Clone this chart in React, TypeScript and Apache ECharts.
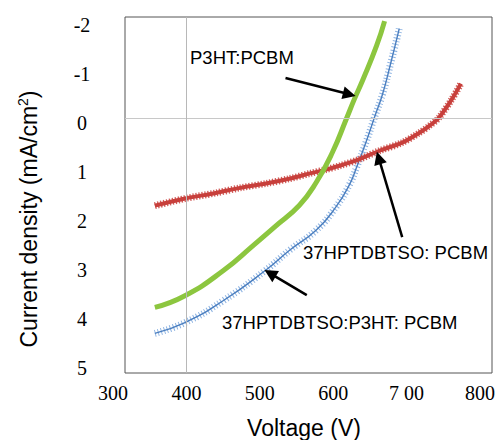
import React, { useEffect, useRef } from 'react';
import * as echarts from 'echarts';

// Voltage (V) vs current density (mA/cm^2)
const p3htPcbm: [number, number][] = [
  [357, 3.71], [398, 3.48], [450, 2.99], [492, 2.48], [520, 2.13], [554, 1.7],
  [577, 1.25], [599, 0.66], [618, 0.0], [629, -0.39], [640, -0.75], [659, -1.43], [670, -1.92],
];
const hptdbtsoPcbm: [number, number][] = [
  [357, 1.71], [398, 1.57], [440, 1.46], [473, 1.36], [510, 1.27], [540, 1.18], [570, 1.07],
  [590, 1.0], [610, 0.92], [635, 0.8], [663, 0.63], [694, 0.47], [717, 0.28], [731, 0.14],
  [744, -0.02], [762, -0.39], [774, -0.69],
];
const hptdbtsoP3htPcbm: [number, number][] = [
  [357, 4.22], [398, 4.01], [450, 3.58], [507, 2.99], [541, 2.58], [577, 2.19], [604, 1.73],
  [622, 1.3], [632, 0.95], [645, 0.45], [657, -0.06], [667, -0.47], [678, -1.07], [690, -1.77],
];

const xTickLabels = ['300', '400', '500', '600', '7 00', '800'];
const yTickLabels = ['-2', '-1', '0', '1', '2', '3', '4', '5'];

// annotation arrows: [tail, head] in data coordinates
const arrowP3ht: [number, number][] = [[535, -0.8], [622, -0.48]];
const arrowHptPcbm: [number, number][] = [[694, 2.33], [662, 0.77]];
const arrowTernary: [number, number][] = [[564, 3.47], [514, 3.04]];

const labelP3ht = 'P3HT:PCBM';
const labelHptPcbm = '37HPTDBTSO: PCBM';
const labelTernary = '37HPTDBTSO:P3HT: PCBM';

const GREEN = '#8cc63f';
const RED = '#c8403c';
const BLUE = '#4a7ebf';
const BLUE_LIGHT = '#8db3e2';

export default function App() {
  const ref = useRef<HTMLDivElement>(null);
  useEffect(() => {
    document.body.style.margin = '0';
    const chart = echarts.init(ref.current!, null, { renderer: 'svg' });
    const sans = 'Liberation Sans';
    const serif = 'Liberation Serif';
    const arrowItem = (a: [number, number][]) => [{ coord: a[0] }, { coord: a[1] }];
    chart.setOption({
      animation: false,
      backgroundColor: '#ffffff',
      grid: [
        { left: 113, right: 17, top: 17, bottom: 67 },
        { left: 125, right: 6, top: 17, bottom: 67, show: true, borderColor: '#555', borderWidth: 1 },
        { left: 125, right: 6, top: 25, bottom: 72 },
      ],
      xAxis: [
        {
          gridIndex: 0, type: 'value', min: 300, max: 800, interval: 100,
          axisLine: { show: false }, axisTick: { show: false }, splitLine: { show: false },
          axisLabel: {
            margin: 10, fontFamily: serif, fontSize: 20, color: '#000',
            formatter: (v: number) => xTickLabels[Math.round((v - 300) / 100)] ?? '',
          },
        },
        { gridIndex: 1, type: 'value', min: 0, max: 1, show: false },
        { gridIndex: 2, type: 'value', min: 0, max: 1, show: false },
      ],
      yAxis: [
        { gridIndex: 0, type: 'value', min: -2, max: 5, inverse: true, show: false },
        { gridIndex: 1, type: 'value', min: -2, max: 5, inverse: true, show: false },
        {
          gridIndex: 2, type: 'value', min: -2, max: 5, interval: 1, inverse: true,
          axisLine: { show: false }, axisTick: { show: false }, splitLine: { show: false },
          axisLabel: {
            align: 'center', margin: 43, fontFamily: serif, fontSize: 20, color: '#000',
            formatter: (v: number) => yTickLabels[Math.round(v + 2)] ?? '',
          },
        },
      ],
      series: [
        {
          type: 'line', xAxisIndex: 1, yAxisIndex: 1, data: [], z: 1, silent: true,
          markLine: {
            silent: true, symbol: 'none', label: { show: false },
            lineStyle: { color: '#c8c8c8', width: 1, type: 'solid' },
            data: [{ yAxis: 0 }],
          },
        },
        {
          type: 'line', xAxisIndex: 0, yAxisIndex: 0, data: [], z: 1, silent: true,
          markLine: {
            silent: true, symbol: 'none', label: { show: false },
            lineStyle: { color: '#b8b8b8', width: 1, type: 'solid' },
            data: [{ xAxis: 400 }],
          },
        },
        {
          name: labelHptPcbm, type: 'line', data: hptdbtsoPcbm, smooth: 0.3, z: 3,
          symbol: 'none', lineStyle: { color: RED, width: 4 },
        },
        {
          name: labelHptPcbm + ' texture', type: 'line', data: hptdbtsoPcbm, smooth: 0.3, z: 3,
          symbol: 'none', lineStyle: { color: RED, width: 7, type: [1.3, 1.7], opacity: 0.85 },
        },
        {
          name: labelP3ht, type: 'line', data: p3htPcbm, smooth: 0.5, z: 4,
          symbol: 'none', lineStyle: { color: GREEN, width: 5 },
        },
        {
          name: labelTernary + ' texture', type: 'line', data: hptdbtsoP3htPcbm, smooth: 0.5, z: 2,
          symbol: 'none', lineStyle: { color: BLUE_LIGHT, width: 7, type: [1, 2.2] },
        },
        {
          name: labelTernary, type: 'line', data: hptdbtsoP3htPcbm, smooth: 0.5, z: 2,
          symbol: 'none', lineStyle: { color: BLUE, width: 1.4 },
        },
        {
          type: 'line', xAxisIndex: 0, yAxisIndex: 0, data: [], z: 10, silent: true,
          markLine: {
            silent: true, symbol: ['none', 'triangle'], symbolSize: 13,
            label: { show: false },
            lineStyle: { color: '#000', width: 2.5, type: 'solid' },
            itemStyle: { color: '#000' },
            data: [arrowItem(arrowP3ht), arrowItem(arrowHptPcbm), arrowItem(arrowTernary)],
          },
        },
      ],
      graphic: [
        {
          type: 'text', x: 29, y: 219, rotation: Math.PI / 2,
          style: {
            text: '{a|Current density (mA/cm}{s|2}{a|)}',
            textAlign: 'center', textVerticalAlign: 'middle', align: 'center', verticalAlign: 'middle',
            fill: '#000',
            rich: {
              a: { fontSize: 23, fontFamily: sans, fill: '#000', lineHeight: 26 },
              s: { fontSize: 14, fontFamily: sans, fill: '#000', verticalAlign: 'top' },
            },
          },
        },
        {
          type: 'text', x: 304, y: 428,
          style: {
            text: 'Voltage (V)', fontSize: 23, fontFamily: sans, fill: '#000',
            textAlign: 'center', textVerticalAlign: 'middle', align: 'center', verticalAlign: 'middle',
          },
        },
        {
          type: 'text', x: 190, y: 57, z: 20,
          style: {
            text: labelP3ht, fontSize: 18.5, fontFamily: sans, fill: '#000',
            textAlign: 'left', textVerticalAlign: 'middle', align: 'left', verticalAlign: 'middle',
          },
        },
        {
          type: 'text', x: 303, y: 252, z: 20,
          style: {
            text: labelHptPcbm, fontSize: 18.5, fontFamily: sans, fill: '#000',
            textAlign: 'left', textVerticalAlign: 'middle', align: 'left', verticalAlign: 'middle',
          },
        },
        {
          type: 'text', x: 222, y: 322, z: 20,
          style: {
            text: labelTernary, fontSize: 18.5, fontFamily: sans, fill: '#000',
            textAlign: 'left', textVerticalAlign: 'middle', align: 'left', verticalAlign: 'middle',
          },
        },
      ],
    });
    return () => chart.dispose();
  }, []);
  return <div ref={ref} style={{ width: 498, height: 440 }} />;
}
